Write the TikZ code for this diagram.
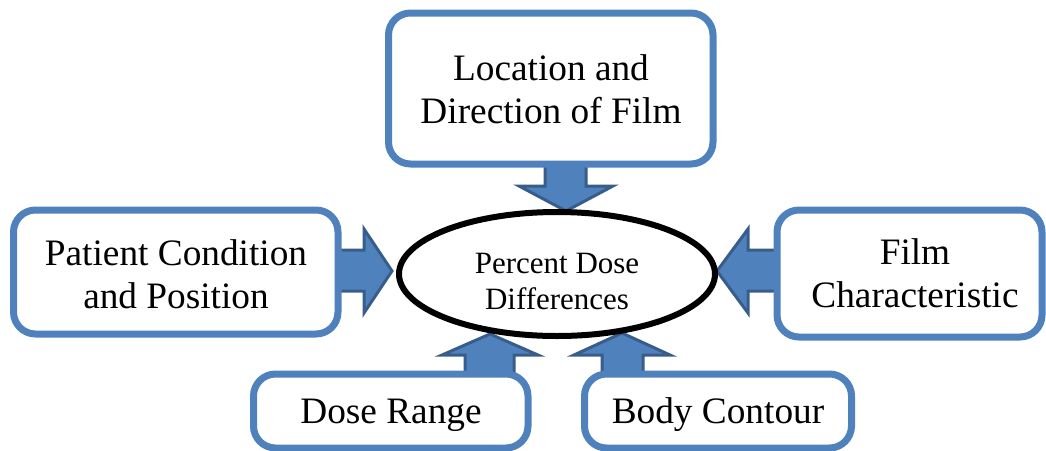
\documentclass[tikz,border=0pt]{standalone}
\usepackage{fontspec}
\setmainfont{Liberation Serif}
\usetikzlibrary{shapes.geometric}
\definecolor{boxblue}{RGB}{79,129,189}
\definecolor{arrowfill}{RGB}{79,129,189}
\definecolor{arrowline}{RGB}{56,93,138}
\tikzset{
  roundbox/.style={draw=boxblue, line width=7pt, rounded corners=22pt, fill=white},
  blockarrow/.style={draw=arrowline, fill=arrowfill, line width=3pt, line join=miter},
  bigtext/.style={inner sep=0pt, align=center, font=\fontsize{37.3}{43}\selectfont},
  smalltext/.style={inner sep=0pt, align=center, font=\fontsize{31}{36}\selectfont},
  centreellipse/.style={draw=black, line width=6pt, ellipse, fill=white, inner sep=0pt, minimum width=316pt, minimum height=124pt},
}
\begin{document}
\begin{tikzpicture}[x=1pt,y=-1pt]
\useasboundingbox (0,0) rectangle (1046,450);
% arrows (drawn below boxes)
\draw[blockarrow] (545,158) -- (586,158) -- (586,186) -- (613,186) -- (566,211) -- (519,186) -- (545,186) -- cycle;
\draw[blockarrow] (330,250) -- (364,250) -- (364,229) -- (392,271) -- (364,313) -- (364,291) -- (330,291) -- cycle;
\draw[blockarrow] (784,250) -- (748,250) -- (748,229) -- (717,271) -- (748,313) -- (748,291) -- (784,291) -- cycle;
\draw[blockarrow] (465,380) -- (465,355) -- (442,355) -- (490,334) -- (538,355) -- (514,355) -- (514,380) -- cycle;
\draw[blockarrow] (602,380) -- (602,355) -- (574,355) -- (622,333) -- (670,355) -- (643,355) -- (643,380) -- cycle;
% boxes
\draw[roundbox] (388.5,13) rectangle (713,164);
\draw[roundbox] (13.5,210) rectangle (338,334);
\draw[roundbox] (777,210) rectangle (1042,337);
\draw[roundbox] (253.5,374) rectangle (528,448);
\draw[roundbox] (584.5,374) rectangle (851.5,448);
% ellipse
\node[centreellipse] (center) at (557,274) {};
% texts
\node[bigtext] (top) at (551,89) {Location and\\Direction of Film};
\node[bigtext] (left) at (176,274) {Patient Condition\\and Position};
\node[bigtext] (right) at (915,273) {Film\\Characteristic};
\node[bigtext] (dose) at (391,415) {Dose Range};
\node[bigtext] (body) at (718,415) {Body Contour};
\node[smalltext] (pdd) at (557,281) {Percent Dose\\Differences};
\end{tikzpicture}
\end{document}
